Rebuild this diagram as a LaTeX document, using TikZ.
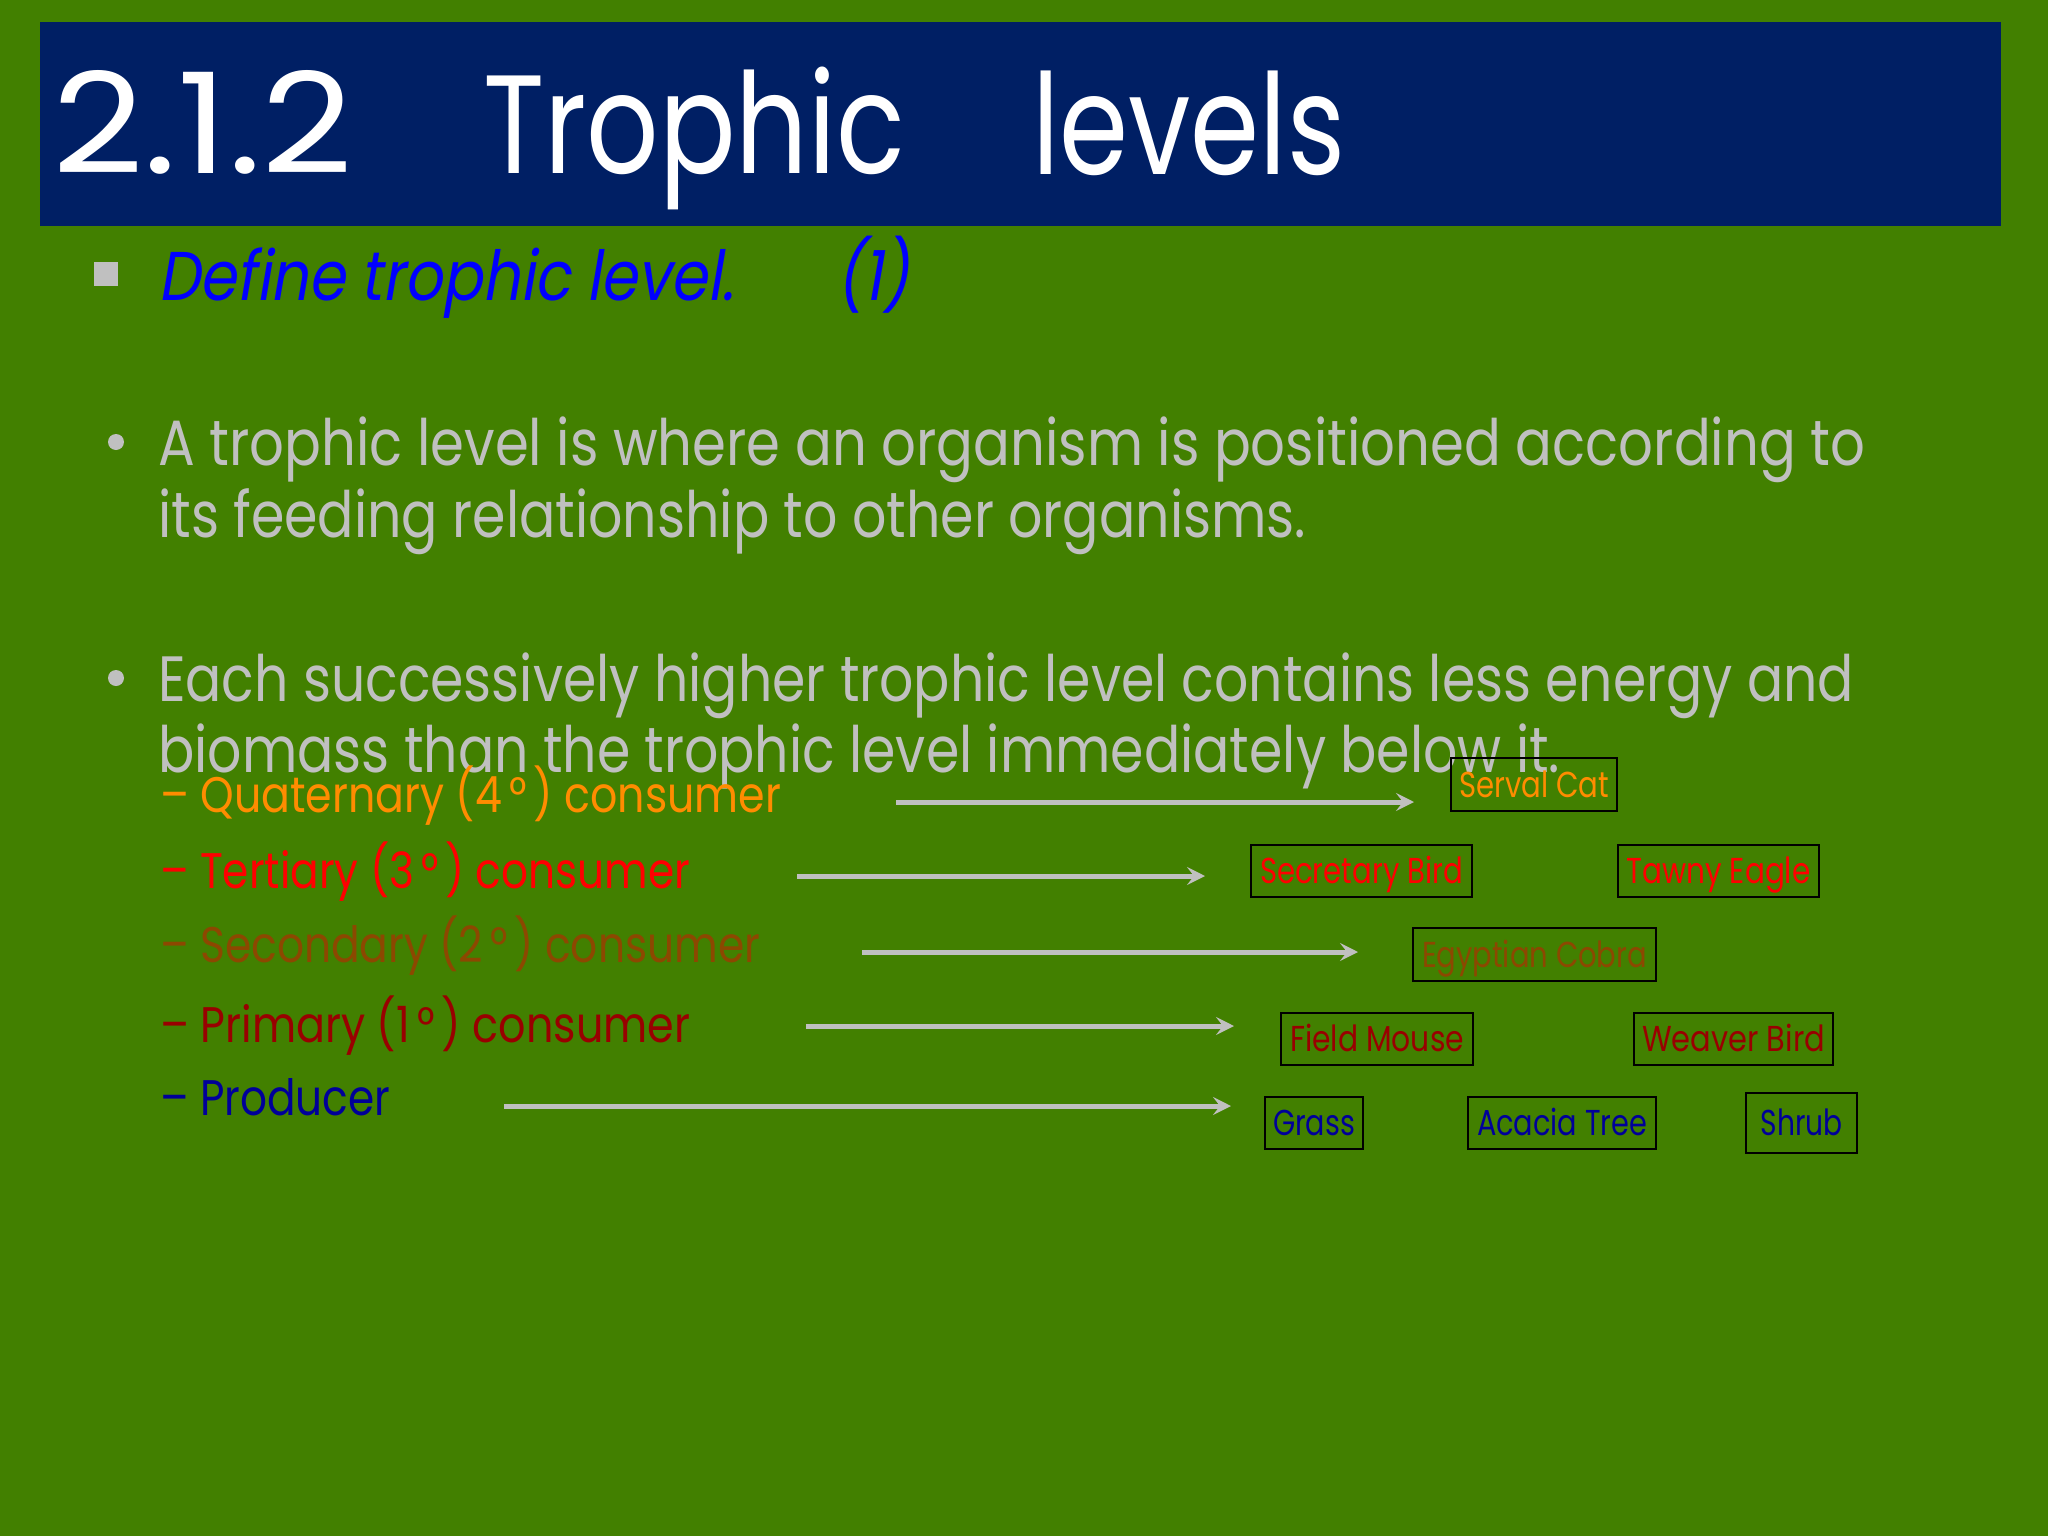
\documentclass[tikz,border=0pt]{standalone}
\usepackage{fontspec}
\usepackage{graphicx}
\setmainfont{Poppins}
\newfontfamily\slantfont[FakeSlant=0.2]{Poppins}
\usetikzlibrary{arrows.meta}
\definecolor{bggreen}{RGB}{66,128,0}
\definecolor{titlenavy}{RGB}{0,31,100}
\definecolor{bodygray}{RGB}{192,192,192}
\definecolor{qorange}{RGB}{255,140,0}
\definecolor{tred}{RGB}{255,0,0}
\definecolor{sbrown}{RGB}{140,72,0}
\definecolor{pdarkred}{RGB}{153,0,0}
\definecolor{prodnavy}{RGB}{0,0,153}
\definecolor{defblue}{RGB}{0,0,255}
\newcommand{\fitw}[2]{\resizebox{#1pt}{\height}{#2}}
\tikzset{
  titletext/.style={anchor=base west, inner sep=0pt, text=white, font=\fontsize{140}{140}\selectfont},
  bodytext/.style={anchor=base west, inner sep=0pt, text=bodygray, font=\fontsize{64}{64}\selectfont},
  lvltext/.style={anchor=base west, inner sep=0pt, font=\fontsize{50}{50}\selectfont},
  orgbox/.style={draw=black, line width=2.5pt, inner sep=0pt, minimum height=52pt,
    font=\fontsize{36}{36}\selectfont, text height=25pt, text depth=0pt},
  flow/.style={draw=bodygray, line width=5pt, -{Stealth[length=18pt,width=18pt,inset=7pt]}},
  dotbullet/.style={circle, fill=bodygray, inner sep=0pt, minimum size=16pt}
}
\begin{document}
\begin{tikzpicture}[x=1pt, y=-1pt]
\useasboundingbox (0,0) rectangle (2048,1536);
\fill[bggreen] (0,0) rectangle (2048,1536);
% title bar
\fill[titlenavy] (40,22) rectangle (2001,226);
\node[titletext] (t1) at (52,174) {\fitw{301}{2.1.2}};
\node[titletext] (t2) at (483,174) {\fitw{422}{Trophic}};
\node[titletext] (t3) at (1032,174) {\fitw{313}{levels}};
% define line
\node[fill=bodygray, inner sep=0pt, minimum size=24pt] (sq) at (106,274) {};
\node[anchor=base west, inner sep=0pt, text=defblue, font=\fontsize{69}{69}\selectfont\slantfont] (def1) at (158,300) {\fitw{576}{Define trophic level.}};
\node[anchor=base west, inner sep=0pt, text=defblue, font=\fontsize{69}{69}\selectfont\slantfont] (def2) at (836,300) {\fitw{74}{(1)}};
% bullets
\node[dotbullet] (b1) at (116,442) {};
\node[bodytext] (l1) at (158,465) {\fitw{1707}{A trophic level is where an organism is positioned according to}};
\node[bodytext] (l2) at (158,537) {\fitw{1148}{its feeding relationship to other organisms.}};
\node[dotbullet] (b2) at (116,678) {};
\node[bodytext] (l3) at (158,701) {\fitw{1696}{Each successively higher trophic level contains less energy and}};
\node[bodytext] (l4) at (158,772) {\fitw{1402}{biomass than the trophic level immediately below it.}};
% level labels
\node[lvltext, text=qorange] (q) at (160,812) {\fitw{621}{– Quaternary (4\,°\,) consumer}};
\node[lvltext, text=tred] (t) at (160,888) {\fitw{530}{– Tertiary (3\,°\,) consumer}};
\node[lvltext, text=sbrown] (s) at (160,962) {\fitw{600}{– Secondary (2\,°\,) consumer}};
\node[lvltext, text=pdarkred] (p) at (160,1042) {\fitw{530}{– Primary (1\,°\,) consumer}};
\node[lvltext, text=prodnavy] (pr) at (160,1115) {\fitw{230}{– Producer}};
% organism boxes
\node[orgbox, minimum width=166pt, minimum height=53pt, text=qorange] (serval) at (1534,784.5) {\fitw{150}{Serval Cat}};
\node[orgbox, minimum width=221pt, text=tred] (secretary) at (1361.5,871) {\fitw{203}{Secretary Bird}};
\node[orgbox, minimum width=201pt, text=tred] (tawny) at (1718.5,871) {\fitw{184}{Tawny Eagle}};
\node[orgbox, minimum width=243pt, minimum height=53pt, text=sbrown] (cobra) at (1534.5,954.5) {\fitw{225}{Egyptian Cobra}};
\node[orgbox, minimum width=192pt, text=pdarkred] (mouse) at (1377,1039) {\fitw{174}{Field Mouse}};
\node[orgbox, minimum width=199pt, text=pdarkred] (weaver) at (1733.5,1039) {\fitw{183}{Weaver Bird}};
\node[orgbox, minimum width=98pt, text=prodnavy] (grass) at (1314,1123) {\fitw{82}{Grass}};
\node[orgbox, minimum width=188pt, text=prodnavy] (acacia) at (1562,1123) {\fitw{170}{Acacia Tree}};
\node[orgbox, minimum width=111pt, minimum height=60pt, text=prodnavy] (shrub) at (1801.5,1123) {\fitw{82}{Shrub}};
% arrows
\coordinate (qa) at (896,802);  \coordinate (qb) at (1414,802);
\coordinate (ta) at (797,876);  \coordinate (tb) at (1205,876);
\coordinate (sa) at (862,952);  \coordinate (sb) at (1358,952);
\coordinate (pa) at (806,1026); \coordinate (pb) at (1234,1026);
\coordinate (ra) at (504,1106); \coordinate (rb) at (1231,1106);
\draw[flow] (qa) -- (qb);
\draw[flow] (ta) -- (tb);
\draw[flow] (sa) -- (sb);
\draw[flow] (pa) -- (pb);
\draw[flow] (ra) -- (rb);
\end{tikzpicture}
\end{document}
